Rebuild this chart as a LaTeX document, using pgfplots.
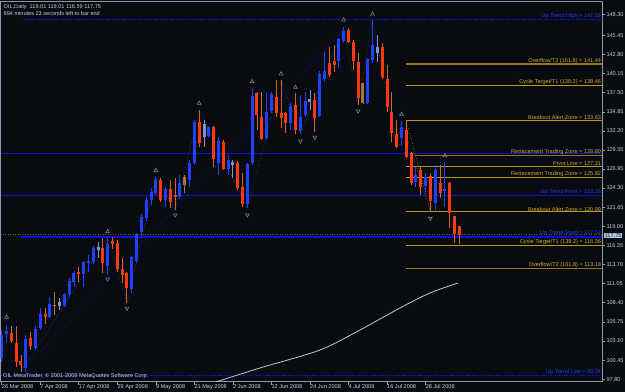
\documentclass[border=0pt]{standalone}
\usepackage{fontspec}
\setmainfont{Liberation Sans}
\usepackage{pgfplots}
\pgfplotsset{compat=1.18}
\usepackage{pgfplotstable}
\definecolor{bg}{RGB}{8,11,15}
\definecolor{framec}{RGB}{140,155,172}
\definecolor{bullc}{RGB}{32,64,255}
\definecolor{bearc}{RGB}{255,56,16}
\definecolor{bearw}{RGB}{214,100,30}
\definecolor{lightb}{RGB}{120,150,205}
\definecolor{tanc}{RGB}{165,115,60}
\definecolor{lvlblue}{RGB}{10,16,220}
\definecolor{lblblue}{RGB}{40,60,230}
\definecolor{lvlgold}{RGB}{190,150,20}
\definecolor{lvlgoldd}{RGB}{150,118,25}
\definecolor{lblgold}{RGB}{205,170,60}
\definecolor{txt}{RGB}{200,208,216}
\definecolor{fracc}{RGB}{130,130,130}
\definecolor{pricebox}{RGB}{176,196,222}
\newcommand{\fs}{\fontsize{5.6}{7}\selectfont}

\pgfplotstableread{
i O H L C
0 100.75 104.63 100.20 103.94
1 104.08 105.32 102.97 104.49
5 99.37 103.94 98.81 103.38
7 102.14 105.19 101.86 104.77
8 104.91 107.68 104.63 106.85
10 106.43 109.20 106.29 108.23
13 107.96 109.76 107.82 109.62
14 109.62 111.83 109.20 111.42
15 111.28 112.80 110.59 112.53
17 112.39 114.19 110.59 114.05
18 113.91 115.02 112.66 114.19
19 114.05 116.27 113.77 115.99
22 113.50 117.37 112.25 116.54
27 110.31 114.88 109.76 114.74
28 114.19 118.07 113.91 117.93
29 118.20 120.70 117.65 120.28
30 120.14 123.05 119.73 122.64
31 122.64 124.30 121.94 123.74
32 123.61 125.82 123.33 125.54
34 122.64 124.44 121.67 124.16
37 123.05 126.10 122.77 124.99
39 125.41 128.18 124.44 127.76
40 127.76 133.72 127.48 133.44
43 131.50 132.89 131.36 132.75
45 127.76 131.36 126.10 130.81
47 126.93 128.87 126.10 128.18
51 122.08 127.76 121.53 127.62
52 127.76 138.15 127.48 137.04
55 131.22 137.46 130.95 134.82
56 134.96 137.59 134.69 137.32
60 133.30 136.07 132.33 135.66
62 132.19 137.18 131.78 134.13
63 134.41 137.59 134.13 136.35
66 134.27 140.50 134.13 140.09
67 139.39 143.13 138.98 140.50
70 141.89 145.07 140.92 144.93
71 144.66 146.60 144.38 146.04
76 136.07 142.30 135.93 142.16
77 142.03 147.59 141.61 144.10
83 131.22 133.63 130.12 132.75
86 125.13 127.21 124.44 126.10
88 124.58 126.38 123.74 125.82
90 122.22 127.48 121.25 126.79
92 124.02 127.90 121.67 124.16
}\bull

\pgfplotstableread{
i O H L C
12 107.96 109.06 107.40 108.51
20 115.71 116.82 114.60 116.13
42 131.36 133.72 129.98 133.16
48 127.48 128.18 125.68 127.90
64 136.21 137.87 135.10 136.62
78 142.99 145.49 141.75 143.83
}\lightt

\pgfplotstableread{
i O H L C
11 108.09 109.89 106.71 107.96
38 125.82 126.10 123.61 124.71
75 136.07 138.84 135.93 138.80
}\tant

\pgfplotstableread{
i O H L C
2 104.22 105.19 102.83 103.11
3 102.83 105.19 99.51 100.20
4 100.34 101.17 98.81 99.78
6 103.52 104.35 101.86 102.42
9 106.85 107.68 105.46 106.43
16 112.66 113.36 111.28 112.39
21 115.99 117.37 112.53 113.91
23 116.96 117.51 115.85 116.54
24 116.68 117.10 112.66 113.08
25 113.08 114.60 111.14 112.25
26 112.53 112.66 108.37 110.45
33 125.41 125.68 122.36 122.64
35 124.16 125.41 121.53 122.36
36 123.33 125.68 121.25 123.05
41 133.44 135.10 129.98 130.53
44 132.75 132.89 127.21 128.31
46 130.67 130.95 126.79 126.93
49 127.76 128.04 124.02 124.30
50 124.44 126.38 121.67 122.08
53 137.46 137.59 132.33 134.41
54 134.13 137.59 130.95 131.08
57 136.90 139.26 134.13 134.69
58 134.69 139.26 132.61 133.99
59 134.69 134.82 131.92 133.30
61 135.79 137.46 131.78 132.33
65 136.49 137.46 132.05 133.99
68 141.61 143.83 139.67 139.95
69 141.89 144.10 140.36 141.33
72 146.18 146.46 144.38 144.52
73 144.52 144.80 140.64 141.89
74 141.75 143.00 135.79 136.76
79 143.83 144.38 139.39 139.67
80 139.39 141.33 134.82 135.52
81 134.82 137.59 130.67 131.92
82 131.78 133.72 129.84 129.98
84 132.33 133.72 128.45 128.59
85 129.15 129.28 124.71 124.99
87 126.79 127.21 123.33 124.44
89 125.96 126.38 120.99 122.50
91 124.99 127.48 122.91 123.61
93 124.99 125.13 118.76 120.84
94 120.42 120.42 116.68 117.93
95 119.01 119.01 116.59 117.75
}\bear

\newcommand{\candles}[3]{%
  \addplot[draw=none, mark=none, forget plot,
    error bars/.cd, y dir=both, y explicit, error mark=none,
    error bar style={draw=#3, line width=0.9bp}]
    table[x=i, y expr={(\thisrow{H}+\thisrow{L})/2},
      y error expr={(\thisrow{H}-\thisrow{L})/2}] {#1};
  \addplot[draw=none, mark=none, forget plot,
    error bars/.cd, y dir=both, y explicit, error mark=none,
    error bar style={draw=#2, line width=3bp}]
    table[x=i, y expr={(\thisrow{O}+\thisrow{C})/2},
      y error expr={max(abs(\thisrow{O}-\thisrow{C})/2,0.07)}] {#1};
}

\begin{document}
\begin{tikzpicture}
\useasboundingbox (0,0) rectangle (625bp,392bp);
\fill[bg] (0,0) rectangle (625bp,392bp);
\begin{axis}[
  at={(0.5bp,10.3bp)}, anchor=south west,
  scale only axis, width=601.8bp, height=380bp,
  xmin=-0.25, xmax=124.69, ymin=97.47, ymax=150.10,
  axis background/.style={fill=bg},
  axis line style={framec, line width=0.8bp},
  clip mode=individual,
  xtick={0,8,...,88},
  xticklabels={26 Mar 2008, 7 Apr 2008, 17 Apr 2008, 29 Apr 2008, 9 May 2008, 21 May 2008, 2 Jun 2008, 12 Jun 2008, 24 Jun 2008, 4 Jul 2008, 16 Jul 2008, 28 Jul 2008},
  xtick pos=bottom, ytick pos=right,
  tick align=outside, major tick length=3bp,
  tick style={framec, line width=0.6bp},
  xticklabel style={anchor=north west, xshift=-0.5bp, yshift=0.5bp, font=\fs, text=txt, inner sep=0.5bp},
  ytick={97.80,100.45,103.10,105.75,108.40,111.05,113.70,116.35,119.00,121.65,124.30,126.95,129.55,132.20,134.85,137.50,140.15,142.80,145.45,148.30},
  yticklabels={97.80,100.45,103.10,105.75,108.40,111.05,113.70,116.35,119.00,121.65,124.30,126.95,129.55,132.20,134.85,137.50,140.15,142.80,145.45,148.30},
  yticklabel style={anchor=west, font=\fs, text=txt, inner sep=0.5bp, xshift=0.5bp},
]
% bid line
\addplot[fracc!70!black, line width=0.5bp, dotted, forget plot] coordinates {(-0.25,117.85) (124.69,117.85)};
% level lines (blue)
\addplot[lvlblue, line width=0.9bp, dash pattern=on 1.5bp off 0.8bp, forget plot] coordinates {(4.2,147.59) (124.69,147.59)};
\addplot[lvlblue, line width=1.2bp, forget plot] coordinates {(-0.25,129.02) (124.69,129.02)};
\addplot[lvlblue, line width=1.2bp, forget plot] coordinates {(-0.25,123.26) (124.69,123.26)};
\addplot[lvlblue, line width=1.2bp, forget plot] coordinates {(4.0,117.52) (124.69,117.52)};
\addplot[lvlblue, line width=0.9bp, dash pattern=on 1.5bp off 0.8bp, forget plot] coordinates {(-0.25,98.34) (124.69,98.34)};
% gold levels
\addplot[lvlgoldd, line width=1.5bp, forget plot] coordinates {(83.9,141.44) (124.69,141.44)};
\addplot[lvlgold, line width=0.8bp, forget plot] coordinates {(83.9,138.46) (124.69,138.46)};
\addplot[lvlgold, line width=0.8bp, forget plot] coordinates {(83.9,133.63) (124.69,133.63)};
\addplot[lvlgoldd, line width=1.3bp, forget plot] coordinates {(85.8,128.80) (124.69,128.80)};
\addplot[lvlgold, line width=0.8bp, forget plot] coordinates {(83.9,127.31) (124.69,127.31)};
\addplot[lvlgold, line width=0.8bp, forget plot] coordinates {(83.9,125.82) (124.69,125.82)};
\addplot[lvlgold, line width=0.8bp, forget plot] coordinates {(83.9,120.99) (124.69,120.99)};
\addplot[lvlgold, line width=0.8bp, forget plot] coordinates {(83.9,116.36) (124.69,116.36)};
\addplot[lvlgoldd, line width=1.5bp, forget plot] coordinates {(83.9,113.18) (124.69,113.18)};
\addplot[lvlgold, line width=0.6bp, dotted, forget plot] coordinates {(84,133.63) (89,120.99)};
% trend line and zigzag
\addplot[lvlblue, line width=0.7bp, dotted, forget plot] coordinates {(4.2,98.88) (70.9,146.18)};
\addplot[fracc!80!black, line width=0.5bp, dotted, forget plot] coordinates {
(4,98.81) (22,117.37) (26,108.37) (32,125.82) (36,121.25) (41,135.10) (51,121.53) (58,139.26) (62,131.78) (71,146.60) (74,135.79) (77,147.59) (82,129.84) (83,133.63) (89,120.99) (92,127.90)};
% moving average
\addplot[white!78!black, line width=0.8bp, smooth, forget plot] coordinates {
(44.63,97.47) (53.62,99.37) (66.08,101.86) (74.38,104.63) (82.69,107.68) (88.92,109.76) (94.73,111.14)};
% candles
\candles{\tant}{tanc}{tanc}
\candles{\lightt}{lightb}{lightb}
\candles{\bull}{bullc}{bullc}
\candles{\bear}{bearc}{bearw}
% fractals
\addplot[only marks, mark=triangle, mark size=2.2bp, fracc, mark options={line width=0.6bp, fill=none}, forget plot] coordinates {
(1,106.39) (22,118.25) (32,126.70) (41,136.03) (52,139.02) (58,140.09) (61,138.25) (71,147.57) (77,148.40) (83,134.50) (92,128.77)};
\addplot[only marks, mark=triangle, mark size=2.2bp, fracc, mark options={line width=0.6bp, fill=none, rotate=180}, forget plot] coordinates {
(22,111.70) (26,107.64) (36,120.56) (51,120.56) (62,130.81) (65,131.32) (74,134.96) (89,120.10)};
% labels
\begin{scope}[every node/.style={font=\fs, inner sep=0.6bp, anchor=south east}]
\node[text=lblblue] at (axis cs:124.6,147.59) {Up Trend High = 147.59};
\node[text=lblgold] at (axis cs:124.6,141.44) {Overflow/T2 (161.8) = 141.44};
\node[text=lblgold] at (axis cs:124.6,138.46) {Cycle Target/T1 (138.2) = 138.46};
\node[text=lblgold] at (axis cs:124.6,133.63) {Breakout Alert Zone = 133.63};
\node[text=lblgold] at (axis cs:124.6,128.80) {Retracement Trading Zone = 128.80};
\node[text=lblgold] at (axis cs:124.6,127.31) {Pivot Line = 127.31};
\node[text=lblgold] at (axis cs:124.6,125.82) {Retracement Trading Zone = 125.82};
\node[text=lblblue] at (axis cs:124.6,123.26) {Up Trend Pivot = 123.26};
\node[text=lblgold] at (axis cs:124.6,120.99) {Breakout Alert Zone = 120.99};
\node[text=lblblue] at (axis cs:124.6,117.52) {Up Trend Short = 117.52};
\node[text=lblgold] at (axis cs:124.6,116.36) {Cycle Target/T1 (138.2) = 116.36};
\node[text=lblgold] at (axis cs:124.6,113.18) {Overflow/T2 (161.8) = 113.18};
\node[text=lblblue] at (axis cs:124.6,98.34) {Up Trend Low = 98.34};
\end{scope}
\node[font=\fs, text=txt, anchor=north west, align=left, inner sep=0pt] at ([xshift=3bp,yshift=-2.5bp]rel axis cs:0,1) {OIL,Daily\ \ 119.01 119.01 116.59 117.75\\994 minutes 23 seconds left to bar end};
\node[font=\fs, text=txt, anchor=south west, inner sep=0pt] at ([xshift=2.5bp,yshift=2.5bp]rel axis cs:0,0) {OIL MetaTrader, © 2001-2008 MetaQuotes Software Corp.};
\node[font=\fs, fill=pricebox, text=black!85, anchor=west, inner sep=0.8bp] at ([xshift=1.5bp]axis cs:124.69,117.75) {117.75};
\end{axis}
\end{tikzpicture}
\end{document}
